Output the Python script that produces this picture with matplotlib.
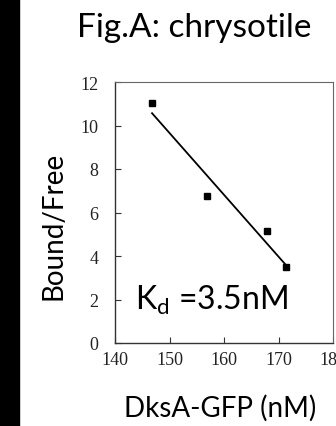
import matplotlib
matplotlib.use('Agg')
import matplotlib.pyplot as plt
from matplotlib.patches import Rectangle
import numpy as np

# data
conc = [146.8, 156.9, 167.8, 171.4]      # DksA-GFP (nM)
bound_free = [11.03, 6.77, 5.14, 3.49]   # Bound/Free
xticks = [140, 150, 160, 170, 180]
yticks = [0, 2, 4, 6, 8, 10, 12]

plt.rcParams['mathtext.fontset'] = 'custom'
plt.rcParams['mathtext.rm'] = 'Lato'

W, H = 336, 427
fig = plt.figure(figsize=(W / 100, H / 100), dpi=100)
fig.patch.set_facecolor('white')

# black strip on the left edge
fig.add_artist(Rectangle((0, 0), 19 / W, 1, transform=fig.transFigure,
                         color='black', zorder=0))

ax = fig.add_axes([115 / W, 1 - 344 / H, (333 - 115) / W, (344 - 83) / H])

ax.plot(conc, bound_free, 's', color='black', markersize=4.5)
# linear trend line through the points
k, b = np.polyfit(conc, bound_free, 1)
xfit = np.array([min(conc), max(conc)])
ax.plot(xfit, k * xfit + b, color='black', linewidth=1.3)

ax.set_xlim(140, 180)
ax.set_ylim(0, 12)
ax.set_xticks(xticks)
ax.set_yticks(yticks)
ax.tick_params(direction='in', length=4, width=0.8, color='#333333',
               labelsize=13, labelcolor='#222222')
ax.tick_params(axis='x', pad=6)
ax.tick_params(axis='y', pad=12)
ax.tick_params(top=False, right=False)
for lab in ax.get_xticklabels() + ax.get_yticklabels():
    lab.set_family('Liberation Serif')
for s in ax.spines.values():
    s.set_linewidth(1.0)
    s.set_color('#333333')
ax.spines['top'].set_color('#666666')
ax.spines['right'].set_color('#666666')
ax.spines['top'].set_linewidth(0.8)
ax.spines['right'].set_linewidth(0.8)

fig.text(194 / W, 1 - 28 / H, 'Fig.A: chrysotile', family='Lato',
         fontsize=24, ha='center', va='center')
fig.text(53 / W, 1 - 226 / H, 'Bound/Free', family='Lato', fontsize=20,
         rotation=90, ha='center', va='center')
fig.text(220 / W, 1 - 408 / H, 'DksA-GFP (nM)', family='Lato', fontsize=20,
         ha='center', va='center')
fig.text(135 / W, 1 - 310 / H, r'K$_{\mathrm{d}}$ =3.5nM', family='Lato',
         fontsize=23, ha='left', va='baseline')

fig.savefig('out.png', dpi=100)
